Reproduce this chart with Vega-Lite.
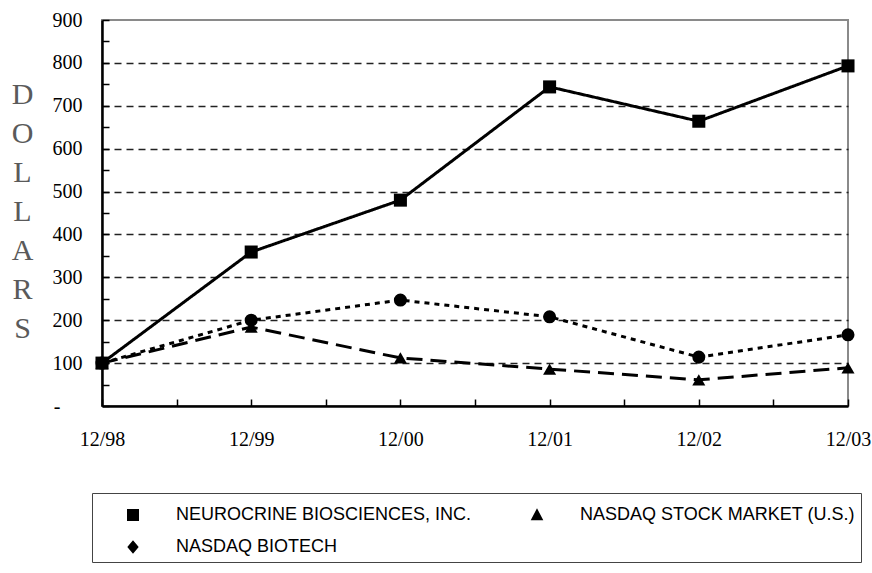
{
  "$schema": "https://vega.github.io/schema/vega-lite/v6.json",
  "width": 746,
  "height": 386,
  "autosize": "none",
  "padding": {"left": 102, "top": 20, "right": 24, "bottom": 167},
  "background": "white",
  "config": {"view": {"stroke": "#8a8a8a", "strokeWidth": 2}},
  "data": {
    "values": [
      {"year": 1998, "series": "NEUROCRINE BIOSCIENCES, INC.", "value": 100},
      {"year": 1999, "series": "NEUROCRINE BIOSCIENCES, INC.", "value": 359},
      {"year": 2000, "series": "NEUROCRINE BIOSCIENCES, INC.", "value": 480},
      {"year": 2001, "series": "NEUROCRINE BIOSCIENCES, INC.", "value": 744},
      {"year": 2002, "series": "NEUROCRINE BIOSCIENCES, INC.", "value": 664},
      {"year": 2003, "series": "NEUROCRINE BIOSCIENCES, INC.", "value": 793},
      {"year": 1998, "series": "NASDAQ STOCK MARKET (U.S.)", "value": 100},
      {"year": 1999, "series": "NASDAQ STOCK MARKET (U.S.)", "value": 184},
      {"year": 2000, "series": "NASDAQ STOCK MARKET (U.S.)", "value": 112},
      {"year": 2001, "series": "NASDAQ STOCK MARKET (U.S.)", "value": 86},
      {"year": 2002, "series": "NASDAQ STOCK MARKET (U.S.)", "value": 61},
      {"year": 2003, "series": "NASDAQ STOCK MARKET (U.S.)", "value": 89},
      {"year": 1998, "series": "NASDAQ BIOTECH", "value": 100},
      {"year": 1999, "series": "NASDAQ BIOTECH", "value": 200},
      {"year": 2000, "series": "NASDAQ BIOTECH", "value": 247},
      {"year": 2001, "series": "NASDAQ BIOTECH", "value": 208},
      {"year": 2002, "series": "NASDAQ BIOTECH", "value": 114},
      {"year": 2003, "series": "NASDAQ BIOTECH", "value": 166}
    ]
  },
  "encoding": {
    "x": {
      "field": "year",
      "type": "quantitative",
      "scale": {"domain": [1998, 2003], "nice": false, "zero": false},
      "axis": {
        "values": [1998, 1998.5, 1999, 1999.5, 2000, 2000.5, 2001, 2001.5, 2002, 2002.5, 2003],
        "labelExpr": "datum.value % 1 == 0 ? '12/' + substring(toString(datum.value), 2, 4) : ''",
        "title": null,
        "grid": false,
        "domainColor": "black",
        "domainWidth": 2.5,
        "tickColor": "black",
        "tickSize": -7,
        "tickWidth": 1.5,
        "labelPadding": 30,
        "labelFont": "Liberation Serif",
        "labelFontSize": 20,
        "labelColor": "black",
        "labelFlush": false,
        "labelOverlap": false
      }
    },
    "y": {
      "field": "value",
      "type": "quantitative",
      "scale": {"domain": [0, 900], "nice": false},
      "axis": {
        "values": [0, 50, 100, 150, 200, 250, 300, 350, 400, 450, 500, 550, 600, 650, 700, 750, 800, 850, 900],
        "labelExpr": "datum.value == 0 ? '-' : (datum.value % 100 == 0 ? datum.label : '')",
        "grid": true,
        "gridColor": {"condition": {"test": "datum.value % 100 != 0 || datum.value == 900 || datum.value == 0", "value": "transparent"}, "value": "#222222"},
        "gridDash": [7, 5],
        "gridWidth": 1.5,
        "domainColor": "black",
        "domainWidth": 2.5,
        "tickColor": "black",
        "tickSize": -7,
        "tickWidth": 1.5,
        "labelPadding": {"condition": {"test": "datum.value == 0", "value": 49}, "value": 27},
        "labelFont": "Liberation Serif",
        "labelFontSize": 20,
        "labelColor": "black",
        "labelOverlap": false,
        "title": ["D", "O", "L", "L", "A", "R", "S"],
        "titleAngle": 0,
        "titleX": -80,
        "titleY": 59,
        "titleAlign": "center",
        "titleBaseline": "top",
        "titleFont": "Liberation Serif",
        "titleFontSize": 30,
        "titleFontWeight": "normal",
        "titleColor": "#5a5a5a",
        "titleLineHeight": 39
      }
    }
  },
  "layer": [
    {
      "mark": {"type": "line", "color": "black", "strokeWidth": 3},
      "encoding": {
        "strokeDash": {
          "field": "series",
          "type": "nominal",
          "scale": {
            "domain": ["NASDAQ BIOTECH", "NASDAQ STOCK MARKET (U.S.)", "NEUROCRINE BIOSCIENCES, INC."],
            "range": [[5, 5], [16, 8], [1, 0]]
          },
          "legend": null
        }
      }
    },
    {
      "mark": {"type": "point", "filled": true, "opacity": 1, "size": 170},
      "encoding": {
        "shape": {
          "field": "series",
          "type": "nominal",
          "scale": {
            "domain": ["NASDAQ STOCK MARKET (U.S.)", "NEUROCRINE BIOSCIENCES, INC.", "NASDAQ BIOTECH"],
            "range": ["triangle-up", "square", "circle"]
          },
          "legend": null
        },
        "color": {
          "field": "series",
          "type": "nominal",
          "scale": {
            "domain": ["NEUROCRINE BIOSCIENCES, INC.", "NASDAQ STOCK MARKET (U.S.)", "NASDAQ BIOTECH"],
            "range": ["black", "black", "black"]
          },
          "legend": {
            "title": null,
            "orient": "none",
            "legendX": -10,
            "legendY": 473,
            "direction": "horizontal",
            "columns": 2,
            "gridAlign": "all",
            "columnPadding": 30,
            "rowPadding": 7,
            "padding": 6,
            "strokeColor": "#444444",
            "symbolSize": 900,
            "symbolOffset": 19,
            "symbolType": {"expr": "datum.value == 'NEUROCRINE BIOSCIENCES, INC.' ? 'M-2.2,0H2.2M-0.4,-0.4H0.4V0.4H-0.4Z' : (datum.value == 'NASDAQ STOCK MARKET (U.S.)' ? 'M-2.2,0H-0.8M0.8,0H2.2M0,-0.45L0.42,0.35H-0.42Z' : 'M-2.2,0H-1.7M-1.3,0H-0.8M0.8,0H1.3M1.7,0H2.2M0,-0.45L0.38,0L0,0.45L-0.38,0Z')"},
            "labelOffset": 27,
            "labelFont": "Liberation Sans",
            "labelFontSize": 18,
            "labelColor": "black",
            "labelLimit": 500,
            "encode": {
              "legend": {"strokeWidth": {"value": 1.5}},
              "symbols": {
                "fill": {"value": "black"},
                "stroke": {"value": "black"},
                "strokeWidth": {"value": 2.5},
                "opacity": {"value": 1}
              }
            }
          }
        }
      }
    }
  ]
}
